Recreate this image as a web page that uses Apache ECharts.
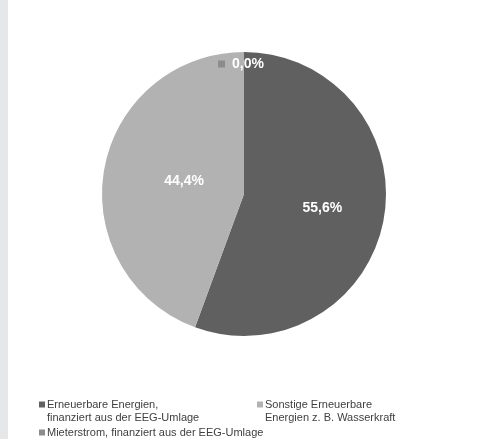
<!DOCTYPE html>
<html>
<head>
<meta charset="utf-8">
<script src="https://cdn.jsdelivr.net/npm/echarts@6/dist/echarts.min.js"></script>
<style>
html,body{margin:0;padding:0;background:#fff;}
#strip{position:absolute;left:0;top:0;width:8px;height:439px;background:#e6e7e9;}
#chart{position:absolute;left:0;top:0;width:487px;height:439px;}
</style>
</head>
<body>
<div id="strip"></div>
<div id="chart"></div>
<script>
const categories = [
  'Erneuerbare Energien,\nfinanziert aus der EEG-Umlage',
  'Sonstige Erneuerbare\nEnergien z. B. Wasserkraft',
  'Mieterstrom, finanziert aus der EEG-Umlage'
];
const values = [55.6, 44.4, 0.0];
const colors = ['#606060', '#b2b2b2', '#8c8c8c'];
const labelOffsets = [[5.5, 1], [13, 0], [-3, -56]];

const chart = echarts.init(document.getElementById('chart'));
const fmt = v => v.toFixed(1).replace('.', ',') + '%';

const data = categories.map((c, i) => {
  const d = { name: c, value: values[i], itemStyle: { color: colors[i] }, label: { offset: labelOffsets[i] } };
  if (values[i] === 0) {
    d.label.formatter = p => '{m|}{s|}' + fmt(p.value);
    d.label.rich = { m: { width: 7, height: 7, backgroundColor: colors[i] }, s: { width: 7 } };
  }
  return d;
});

const txt = { fontFamily: 'Liberation Sans', fontSize: 11, color: '#404040', lineHeight: 13, padding: [0, 0, 0, -3] };
const legendBase = {
  icon: 'rect', itemWidth: 6, itemHeight: 6, itemGap: 0, padding: 5,
  textStyle: txt, selectedMode: false
};
// multi-line names: a leading blank line keeps the marker level with the first line
const alignFirstLine = name => name.indexOf('\n') >= 0 ? '\n' + name : name;

chart.setOption({
  animation: false,
  textStyle: { fontFamily: 'Liberation Sans' },
  legend: [
    Object.assign({}, legendBase, { left: 34, top: 380, formatter: alignFirstLine, data: [categories[0]] }),
    Object.assign({}, legendBase, { left: 252, top: 380, formatter: alignFirstLine, data: [categories[1]] }),
    Object.assign({}, legendBase, { left: 34, top: 421, data: [categories[2]] })
  ],
  series: [{
    type: 'pie',
    center: [244, 194],
    radius: [0, 142],
    startAngle: 90,
    clockwise: true,
    avoidLabelOverlap: false,
    label: {
      show: true,
      position: 'inside',
      color: '#ffffff',
      fontWeight: 'bold',
      fontSize: 14,
      fontFamily: 'Liberation Sans',
      formatter: p => fmt(p.value)
    },
    labelLine: { show: false },
    itemStyle: { borderWidth: 0 },
    emphasis: { disabled: true },
    data: data
  }]
});
</script>
</body>
</html>
